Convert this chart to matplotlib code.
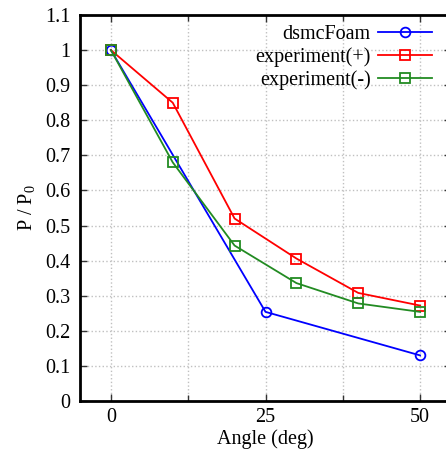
import numpy as np
import matplotlib
matplotlib.use("Agg")
import matplotlib.pyplot as plt
from matplotlib.ticker import MultipleLocator, FixedLocator

plt.rcParams['font.family'] = ['Liberation Serif', 'DejaVu Serif']
plt.rcParams['mathtext.fontset'] = 'custom'
plt.rcParams['mathtext.rm'] = 'Liberation Serif'

# data
dsmc_x = [0, 25, 50]
dsmc_y = [1.0, 0.254, 0.130]
exp_x = [0, 10, 20, 30, 40, 50]
exp_plus = [1.0, 0.85, 0.52, 0.406, 0.308, 0.272]
exp_minus = [1.0, 0.68, 0.443, 0.336, 0.278, 0.254]
yticks = [0, 0.1, 0.2, 0.3, 0.4, 0.5, 0.6, 0.7, 0.8, 0.9, 1.0, 1.1]
ylabels = ['0', '0.1', '0.2', '0.3', '0.4', '0.5', '0.6', '0.7', '0.8', '0.9', '1', '1.1']

fs = 14.5

fig = plt.figure(figsize=(4.46, 4.5), dpi=100)
ax = fig.add_axes([80/446, 49/450, 371/446, 386/450])

ax.plot(dsmc_x, dsmc_y, color='#0000ff', lw=1.3, marker='o', ms=7,
        mfc='none', mew=1.3, label='dsmcFoam')
ax.plot(exp_x, exp_plus, color='#ff0000', lw=1.3, marker='s', ms=7,
        mfc='none', mew=1.3, label='experiment(+)')
ax.plot(exp_x, exp_minus, color='#228b22', lw=1.3, marker='s', ms=7,
        mfc='none', mew=1.3, label='experiment(-)')

ax.set_xlim(-5, 55)
ax.set_ylim(0, 1.1)
ax.xaxis.set_major_locator(MultipleLocator(25))
ax.xaxis.set_minor_locator(MultipleLocator(12.5))
ax.yaxis.set_major_locator(FixedLocator(yticks))
ax.set_yticklabels(ylabels)

ax.tick_params(which='both', direction='in', top=True, right=True,
               labelsize=fs, width=1.0, color='#333333')
ax.tick_params(which='major', length=5, pad=7)
ax.tick_params(axis='x', which='major', pad=5)
ax.tick_params(which='minor', length=4)
for s in ax.spines.values():
    s.set_linewidth(2)

ax.grid(True, which='major', color='#c0c0c0', ls=':', lw=1)
ax.grid(True, which='minor', axis='x', color='#c0c0c0', ls=':', lw=1)

ax.set_xlabel('Angle (deg)', fontsize=fs)
ax.xaxis.set_label_coords(265/446, 1 - 429/450, transform=fig.transFigure)
ax.set_ylabel('P / P$_0$', fontsize=fs, labelpad=5)

ax.legend(loc='upper right', bbox_to_anchor=(432/446, 1 - 25/450),
          bbox_transform=fig.transFigure, frameon=False, markerfirst=False,
          handlelength=2.7, handletextpad=0.35, labelspacing=0.15,
          borderpad=0, borderaxespad=0, fontsize=fs)

fig.savefig('out.png', dpi=100)
